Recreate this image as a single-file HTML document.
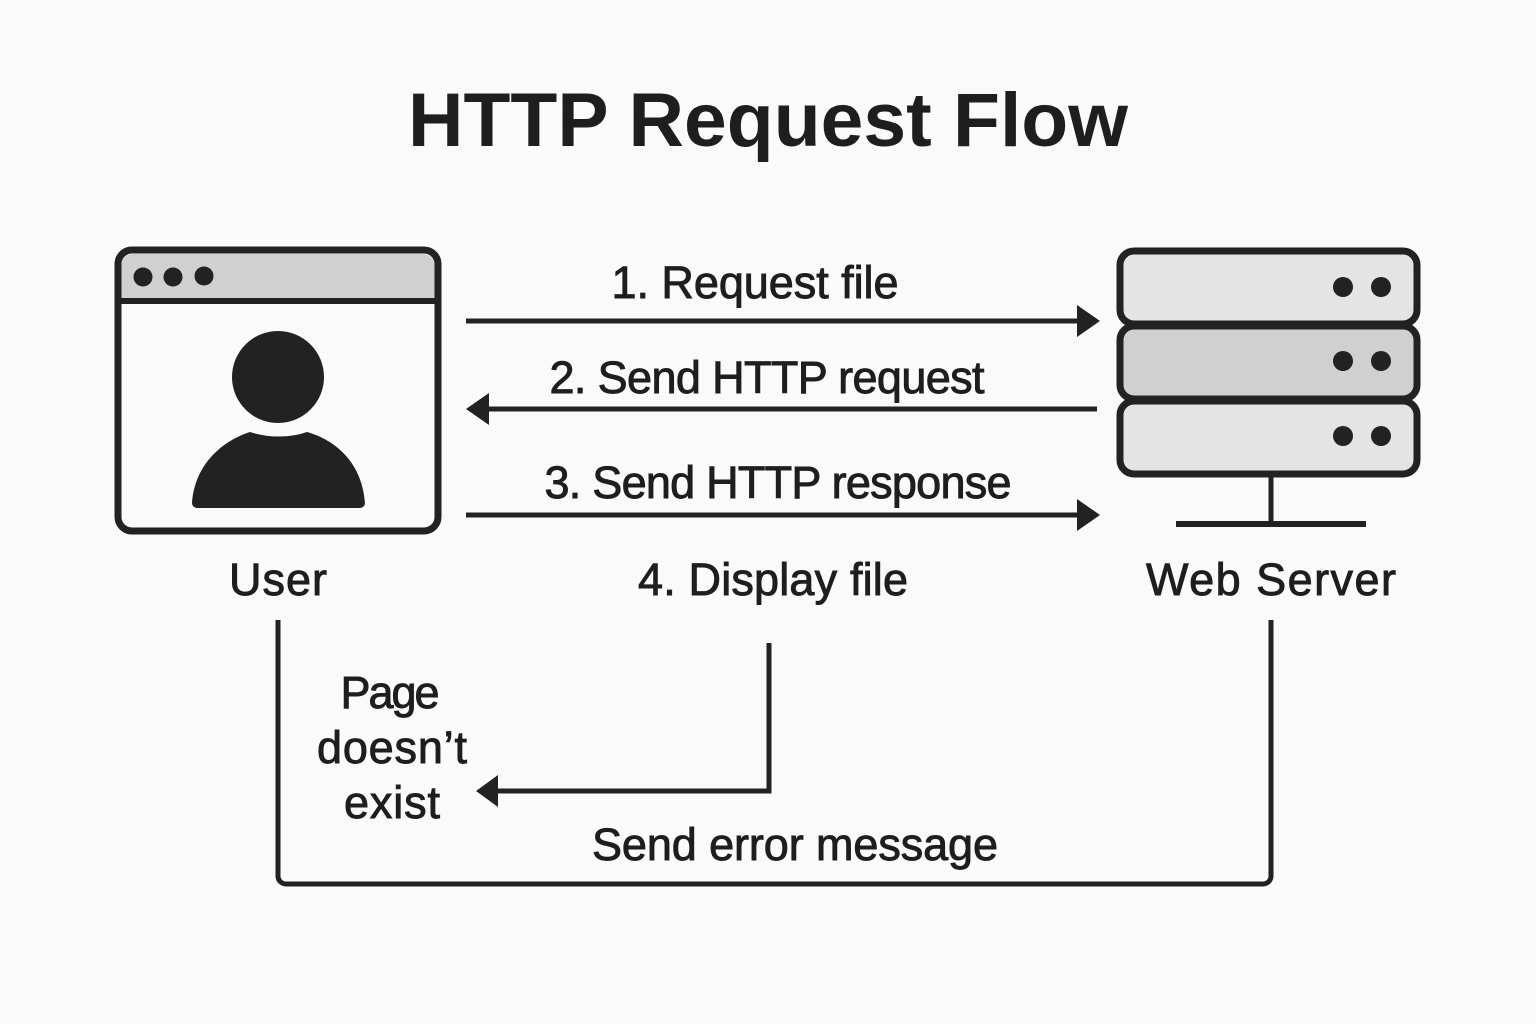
<!DOCTYPE html>
<html><head><meta charset="utf-8"><style>
html,body{margin:0;padding:0;background:#fafafa;}
svg{display:block}
text{font-family:"Liberation Sans",sans-serif;fill:#1e1e1e;}
</style></head><body>
<svg width="1536" height="1024" viewBox="0 0 1536 1024" xmlns="http://www.w3.org/2000/svg">
<rect width="1536" height="1024" fill="#fafafa"/>
<text x="768" y="146" font-size="76" font-weight="bold" text-anchor="middle" textLength="720" lengthAdjust="spacingAndGlyphs">HTTP Request Flow</text>

<rect x="118" y="250" width="320" height="281" rx="14" fill="#fafafa" stroke="#222" stroke-width="7"/>
<path d="M121.5 299 V265 a11 11 0 0 1 11-11 H423.5 a11 11 0 0 1 11 11 V299 Z" fill="#d0d0d0"/>
<line x1="118" y1="301" x2="438" y2="301" stroke="#222" stroke-width="6"/>
<circle cx="143" cy="277" r="9.5" fill="#222"/>
<circle cx="173" cy="277" r="9.5" fill="#222"/>
<circle cx="204" cy="276" r="9.5" fill="#222"/>
<circle cx="278" cy="377" r="46" fill="#222"/>
<path d="M192 503 C195 462 225 440 250 432 C268 438 290 438 307 432 C335 440 362 462 365 503 a5 5 0 0 1 -5 5 H197 a5 5 0 0 1 -5 -5 Z" fill="#222"/>

<rect x="1120" y="251" width="297" height="73" rx="14" fill="#e4e4e4" stroke="#222" stroke-width="7"/>
<rect x="1120" y="326" width="297" height="73" rx="14" fill="#d0d0d0" stroke="#222" stroke-width="7"/>
<rect x="1120" y="401" width="297" height="73" rx="14" fill="#e4e4e4" stroke="#222" stroke-width="7"/>
<circle cx="1343" cy="287" r="10" fill="#222"/><circle cx="1381" cy="287" r="10" fill="#222"/>
<circle cx="1343" cy="361" r="10" fill="#222"/><circle cx="1381" cy="361" r="10" fill="#222"/>
<circle cx="1343" cy="436" r="10" fill="#222"/><circle cx="1381" cy="436" r="10" fill="#222"/>
<line x1="1271" y1="476" x2="1271" y2="522" stroke="#222" stroke-width="5"/>
<line x1="1176" y1="524" x2="1366" y2="524" stroke="#222" stroke-width="6"/>

<g stroke="#222" stroke-width="5" fill="none">
<line x1="466" y1="321" x2="1080" y2="321"/>
<line x1="488" y1="409" x2="1097" y2="409"/>
<line x1="466" y1="515" x2="1080" y2="515"/>
<polyline points="769,643 769,791 496,791"/>
<path d="M278 620 V876 a8 8 0 0 0 8 8 H1263 a8 8 0 0 0 8 -8 V620"/>
</g>
<g fill="#222">
<polygon points="1100,321 1077,305 1077,337"/>
<polygon points="466,409 489,393 489,425"/>
<polygon points="1100,515 1077,499 1077,531"/>
<polygon points="476,791 498,775 498,807"/>
</g>

<g font-size="45" text-anchor="middle" lengthAdjust="spacingAndGlyphs" stroke="#1e1e1e" stroke-width="0.9">
<text x="755" y="298" textLength="287">1. Request file</text>
<text x="767" y="393" textLength="435">2. Send HTTP request</text>
<text x="778" y="498" textLength="467">3. Send HTTP response</text>
<text x="773" y="595" textLength="270">4. Display file</text>
<text x="278" y="595" textLength="98">User</text>
<text x="1271" y="595" textLength="250">Web Server</text>
<text x="390" y="708" textLength="99">Page</text>
<text x="392" y="763" textLength="150">doesn’t</text>
<text x="392" y="818" textLength="96">exist</text>
<text x="795" y="860" textLength="406">Send error message</text>
</g>
</svg>
</body></html>
